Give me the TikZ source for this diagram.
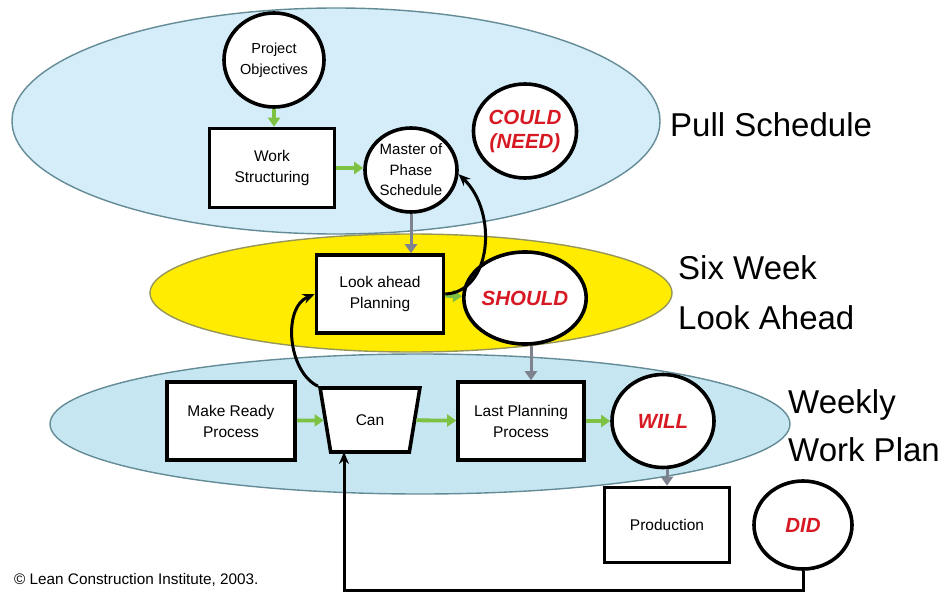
\documentclass[tikz,border=0pt]{standalone}
\usepackage{fontspec}
\setmainfont{Liberation Sans}
\usetikzlibrary{shapes.geometric,arrows.meta}
\definecolor{pullblue}{RGB}{212,237,249}
\definecolor{weekblue}{RGB}{198,230,242}
\definecolor{ellborder}{RGB}{100,140,150}
\definecolor{yelborder}{RGB}{150,150,90}
\definecolor{layyellow}{RGB}{255,236,0}
\definecolor{arrgreen}{RGB}{125,194,66}
\definecolor{arrgray}{RGB}{125,130,142}
\definecolor{redtxt}{RGB}{215,25,35}
\begin{document}
\begin{tikzpicture}[x=1pt,y=-1pt,
  layer/.style={ellipse, draw=ellborder, line width=1.4pt, inner sep=0pt},
  circ/.style={ellipse, draw=black, fill=white, line width=3.6pt, inner sep=0pt, align=center, font=\fontsize{15.5}{21}\selectfont},
  box/.style={rectangle, draw=black, fill=white, line width=3.6pt, inner sep=0pt, align=center, font=\fontsize{15.5}{21}\selectfont},
  redword/.style={text=redtxt, font=\fontsize{20.5}{24}\selectfont\bfseries\itshape},
  side/.style={anchor=west, inner sep=0pt, font=\fontsize{33}{36}\selectfont},
  garrow/.style={draw=arrgreen, line width=3.8pt, -{Triangle[length=9pt,width=12pt]}},
  grarrow/.style={draw=arrgray, line width=3pt, -{Triangle[length=9pt,width=12pt]}},
  barrow/.style={draw=black, line width=3pt, -{Stealth[length=12pt,width=10pt]}},
]
\useasboundingbox (0,0) rectangle (945,594);
% layers
\node[layer, fill=pullblue, minimum width=648pt, minimum height=226pt] (pull) at (336,121) {};
\node[layer, fill=weekblue, minimum width=740pt, minimum height=140pt] (week) at (420,424) {};
\node[layer, draw=yelborder, fill=layyellow, minimum width=522pt, minimum height=118pt] (six) at (411,293) {};
% side labels
\node[side] (lpull) at (670,125) {Pull Schedule};
\node[side] (lsix1) at (678,268) {Six Week};
\node[side] (lsix2) at (678,318) {Look Ahead};
\node[side] (lweek1) at (788,405) {Weekly};
\node[side] (lweek2) at (788,450) {Work Plan};
\node[anchor=west, inner sep=0pt, font=\fontsize{15.3}{17}\selectfont] (copy) at (14,580) {\textcopyright\ Lean Construction Institute, 2003.};
% nodes
\node[circ, minimum width=100pt, minimum height=94pt, font=\fontsize{14.5}{21}\selectfont] (po) at (274,60) {Project\\Objectives};
\node[box, minimum width=125pt, minimum height=79pt] (ws) at (272,168) {Work\\Structuring};
\node[circ, minimum width=92pt, minimum height=84pt, font=\fontsize{15}{20.5}\selectfont] (ms) at (411,170) {Master of\\Phase\\Schedule};
\node[circ, minimum width=86pt, minimum height=94pt, redword] (cn) at (525,131) {COULD\\(NEED)};
\node[box, minimum width=127pt, minimum height=78pt] (la) at (380,294) {Look ahead\\Planning};
\node[circ, minimum width=93pt, minimum height=92pt, redword] (sh) at (525,298) {SHOULD};
\node[box, minimum width=128pt, minimum height=78pt] (mr) at (231,421) {Make Ready\\Process};
\node[trapezium, trapezium left angle=105, trapezium right angle=105, trapezium stretches=true,
      minimum width=100pt, minimum height=64pt, draw=black, fill=white, line width=3.6pt,
      font=\fontsize{15.5}{21}\selectfont] (can) at (370,420) {Can};
\node[box, minimum width=126pt, minimum height=78pt] (lp) at (521,421) {Last Planning\\Process};
\node[circ, minimum width=102pt, minimum height=93pt, redword] (wl) at (663,421) {WILL};
\node[box, minimum width=125pt, minimum height=75pt] (pr) at (667,525) {Production};
\node[circ, minimum width=98pt, minimum height=88pt, redword] (did) at (803,525) {DID};
% coordinates
\coordinate (bl) at (344,590);
\coordinate (canbot) at (344,452);
% green arrows
\draw[garrow] (po.south) -- (po.south |- ws.north);
\draw[garrow] (ws.east) -- (ms.west |- ws.east);
\draw[garrow] (la) -- (sh);
\draw[garrow] (mr) -- (can);
\draw[garrow] (can) -- (lp);
\draw[garrow] (lp) -- (wl);
% gray arrows
\draw[grarrow] (ms.south) -- (ms.south |- la.north);
\draw[grarrow] ([xshift=6pt]sh.south) -- ([xshift=6pt]sh.south |- lp.north);
\draw[grarrow] ([xshift=4pt]wl.south) -- ([xshift=4pt]wl.south |- pr.north);
% black arrows
\draw[barrow] (la.east) .. controls (492,292) and (498,212) .. (ms.-5);
\draw[barrow] (can.top left corner) .. controls (288,372) and (282,308) .. (la.west);
\draw[barrow] (did.south) |- (bl) -- (canbot);
\end{tikzpicture}
\end{document}
